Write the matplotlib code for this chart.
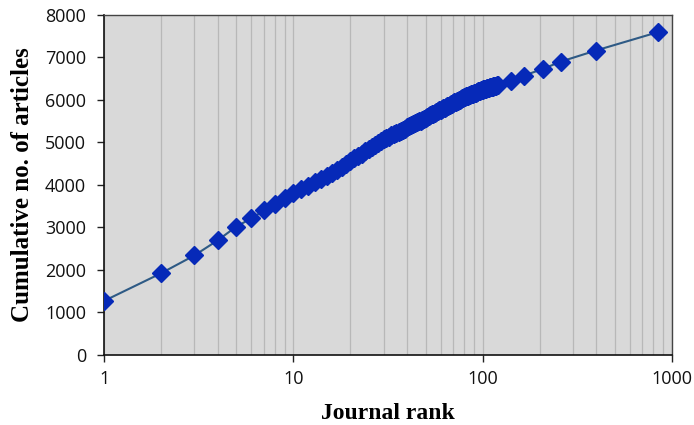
import matplotlib
matplotlib.use("Agg")
from matplotlib import pyplot as plt
from matplotlib.ticker import LogLocator, FixedLocator, NullFormatter

# Journal rank (x) and cumulative number of articles (y)
ranks = list(range(1, 121)) + [141, 165, 209, 259, 396, 847]
cumulative = [
    1270, 1920, 2340, 2700, 3020, 3210, 3400, 3550, 3680, 3800,
    3892, 3979, 4061, 4140, 4216, 4289, 4360, 4428, 4495, 4560,
    4622, 4681, 4737, 4790, 4841, 4890, 4937, 4983, 5027, 5070,
    5102, 5133, 5163, 5192, 5220, 5247, 5274, 5300, 5325, 5350,
    5375, 5399, 5423, 5446, 5469, 5492, 5514, 5536, 5558, 5580,
    5600, 5620, 5639, 5658, 5677, 5696, 5715, 5733, 5751, 5770,
    5786, 5802, 5818, 5834, 5850, 5866, 5882, 5898, 5914, 5930,
    5943, 5956, 5969, 5982, 5995, 6008, 6021, 6034, 6047, 6060,
    6070, 6080, 6090, 6100, 6109, 6118, 6127, 6136, 6145, 6155,
    6164, 6173, 6182, 6190, 6198, 6206, 6214, 6222, 6231, 6240,
    6246, 6252, 6258, 6264, 6270, 6276, 6282, 6288, 6294, 6300,
    6305, 6309, 6314, 6318, 6323, 6327, 6332, 6336, 6341, 6345,
    6455, 6570, 6730, 6900, 7160, 7595,
]
x_ticks = [1, 10, 100, 1000]
y_ticks = [0, 1000, 2000, 3000, 4000, 5000, 6000, 7000, 8000]

fig = plt.figure(figsize=(6.94, 4.25), dpi=100)
ax = fig.add_axes([0.150, 0.165, 0.818, 0.800])
ax.set_facecolor("#d9d9d9")

ax.set_xscale("log")
ax.set_xlim(1, 1000)
ax.set_ylim(0, 8000)

# vertical grid lines at every log step (2..9 and the decades)
ax.xaxis.set_minor_locator(LogLocator(base=10, subs=range(2, 10)))
ax.xaxis.set_minor_formatter(NullFormatter())
ax.grid(True, which="both", axis="x", color="#b8b8b8", lw=0.9)
ax.tick_params(axis="x", which="minor", length=0)

ax.plot(ranks, cumulative, color="#2e5a85", lw=1.5, marker="D",
        ms=9, mfc="#0629b8", mec="#0629b8", zorder=3)

ax.xaxis.set_major_locator(FixedLocator(x_ticks))
ax.set_xticklabels([str(t) for t in x_ticks])
ax.set_yticks(y_ticks)
ax.tick_params(axis="both", which="major", direction="out", length=5,
               width=1, color="#222222", labelsize=13, labelcolor="#111111")
ax.tick_params(axis="x", pad=6)
ax.tick_params(axis="y", pad=8)
for lab in ax.get_xticklabels() + ax.get_yticklabels():
    lab.set_family("Open Sans")

for s in ["left", "bottom"]:
    ax.spines[s].set_color("#111111")
    ax.spines[s].set_linewidth(1.2)
for s in ["top", "right"]:
    ax.spines[s].set_color("#444444")
    ax.spines[s].set_linewidth(1.0)

ax.set_xlabel("Journal rank", family="Liberation Serif", weight="bold",
              fontsize=17, labelpad=11)
ax.set_ylabel("Cumulative no. of articles", family="Liberation Serif",
              weight="bold", fontsize=18, labelpad=8)

fig.savefig("out.png", dpi=100)
